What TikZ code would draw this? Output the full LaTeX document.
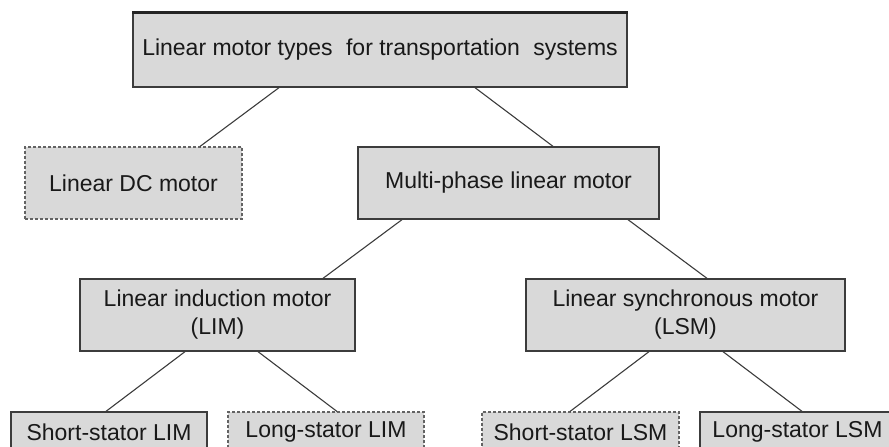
\documentclass[tikz,border=0pt]{standalone}
\usepackage{fontspec}
\setmainfont{Liberation Sans}
\usetikzlibrary{calc}
\definecolor{boxfill}{RGB}{217,217,217}
\definecolor{boxline}{RGB}{60,60,60}
\definecolor{txt}{RGB}{25,25,25}
\begin{document}
\begin{tikzpicture}[x=1pt,y=-1pt,
  box/.style={draw=boxline, fill=boxfill, line width=1.3pt, inner sep=0pt,
    minimum height=72pt, align=center, text=txt,
    font=\fontsize{23}{28}\selectfont},
  dbox/.style={box, draw=boxline!80, line width=1.1pt, dash pattern=on 3pt off 2pt},
  link/.style={draw=boxline, line width=1.1pt}]
\useasboundingbox (0,0) rectangle (889,447);
\clip (0,0) rectangle (889,447);
\node[box, minimum width=494pt, minimum height=74pt] (top) at (380,50)
  {Linear motor types\hspace{7pt} for transportation\hspace{7pt} systems};
\draw[boxline!60!black, line width=2.5pt] (top.north west) -- (top.north east);
\node[dbox, minimum width=217pt] (dc) at (133.5,183) {Linear DC motor};
\node[box, minimum width=301pt] (multi) at (508.5,183) {Multi-phase linear motor};
\node[box, minimum width=275pt] (lim) at (217.5,315) {Linear induction motor\\(LIM)};
\node[box, minimum width=319pt] (lsm) at (685.5,315) {Linear synchronous motor\\(LSM)};
\node[box, minimum width=196pt, minimum height=40pt] (slim) at (109,432) {Short-stator LIM};
\node[dbox, minimum width=196pt, minimum height=40pt] (llim) at (326,432) {Long-stator LIM};
\node[dbox, minimum width=197pt, minimum height=40pt] (slsm) at (580.5,432) {Short-stator LSM};
\node[box, minimum width=195pt, minimum height=40pt] (llsm) at (797.5,432) {Long-stator LSM};
\draw[link] ([xshift=-101pt]top.south) -- ([xshift=66.5pt]dc.north);
\draw[link] ([xshift=95pt]top.south) -- ([xshift=44.5pt]multi.north);
\draw[link] ([xshift=-106.5pt]multi.south) -- ([xshift=105.5pt]lim.north);
\draw[link] ([xshift=119.5pt]multi.south) -- ([xshift=21.5pt]lsm.north);
\draw[link] ([xshift=-32.5pt]lim.south) -- ([xshift=-3pt]slim.north);
\draw[link] ([xshift=40.5pt]lim.south) -- ([xshift=11pt]llim.north);
\draw[link] ([xshift=-36.5pt]lsm.south) -- ([xshift=-10.5pt]slsm.north);
\draw[link] ([xshift=37.5pt]lsm.south) -- ([xshift=4.5pt]llsm.north);
\end{tikzpicture}
\end{document}
